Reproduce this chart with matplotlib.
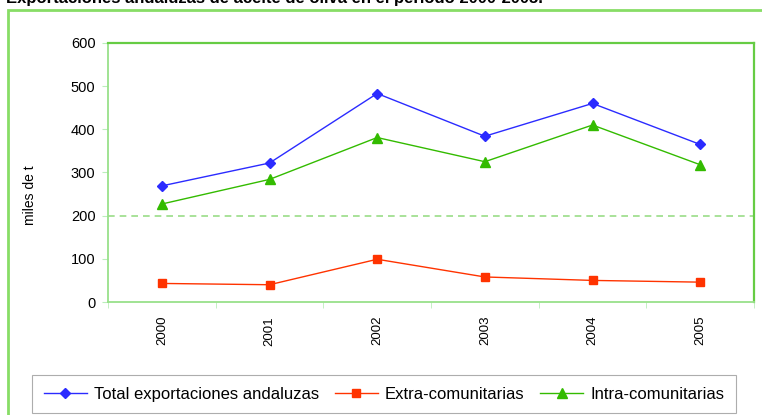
import matplotlib.pyplot as plt
from matplotlib.patches import Rectangle

plt.rcParams['font.family'] = ['Liberation Sans', 'DejaVu Sans']

years = ['2000', '2001', '2002', '2003', '2004', '2005']
total = [269, 322, 483, 384, 460, 365]
extra = [43, 40, 99, 58, 50, 46]
intra = [227, 284, 381, 325, 410, 318]

W, H = 762, 415
fig = plt.figure(figsize=(W / 100, H / 100), dpi=100)
ax = fig.add_axes([108 / W, 1 - 302 / H, (754 - 108) / W, (302 - 43) / H])

x = list(range(len(years)))
ax.plot(x, total, color='#2b2bff', lw=1, marker='D', ms=5, label='Total exportaciones andaluzas')
ax.plot(x, extra, color='#ff3300', lw=1, marker='s', ms=5.5, label='Extra-comunitarias')
ax.plot(x, intra, color='#33bb00', lw=1, marker='^', ms=6.5, label='Intra-comunitarias')

ax.axhline(200, color='#99dd88', lw=1.2, ls=(0, (4, 3)), zorder=0)

ax.set_xlim(-0.5, 5.5)
ax.set_ylim(0, 600)
ax.set_yticks(range(0, 601, 100))
ax.set_xticks(x)
ax.set_xticklabels(years, rotation=90, fontsize=9.5)
ax.set_xticks([i - 0.5 for i in range(7)], minor=True)
ax.tick_params(axis='x', which='major', length=0, pad=10)
ax.tick_params(axis='x', which='minor', length=4, color='#bbeebb')
ax.tick_params(axis='y', length=4, color='#bbeebb', labelsize=10.5, pad=5)

for side in ['left', 'bottom']:
    ax.spines[side].set_color('#99e08a')
    ax.spines[side].set_linewidth(1.3)
for side in ['top', 'right']:
    ax.spines[side].set_color('#66cc44')
    ax.spines[side].set_linewidth(1.6)

fig.text(30 / W, 1 - 195 / H, 'miles de t', rotation=90, ha='center', va='center', fontsize=10)
fig.text(6 / W, 1 + 1 / H, 'Exportaciones andaluzas de aceite de oliva en el periodo 2000-2005.',
         ha='left', va='center', fontsize=12, fontweight='bold')

frame = Rectangle((8 / W, -0.05), 1.0, 1 - 10 / H + 0.05, transform=fig.transFigure,
                  fill=False, edgecolor='#88dd66', lw=2, clip_on=False)
fig.patches.append(frame)

leg = fig.legend(loc='upper left', bbox_to_anchor=(32 / W, 1 - 375 / H), ncol=3,
                 fontsize=12, frameon=True, fancybox=False, edgecolor='#999999',
                 handlelength=2.6, handletextpad=0.4, columnspacing=0.95,
                 borderpad=0.7, borderaxespad=0)
leg.get_frame().set_linewidth(0.8)

fig.savefig('out.png', dpi=100)
